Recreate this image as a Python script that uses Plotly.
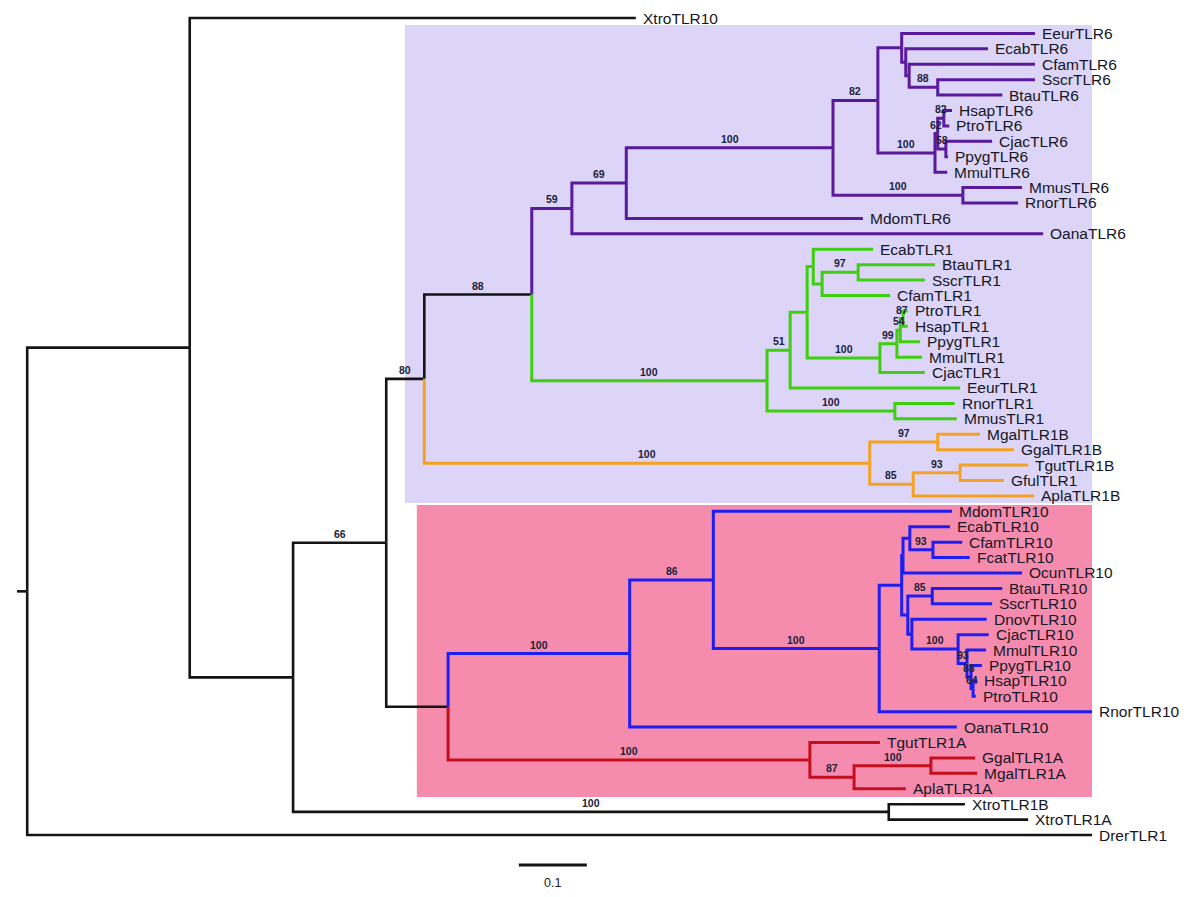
import plotly.graph_objects as go

# ---------------- data: leaves (top to bottom) ----------------
leaf_names = [
    "XtroTLR10", "EeurTLR6", "EcabTLR6", "CfamTLR6", "SscrTLR6", "BtauTLR6",
    "HsapTLR6", "PtroTLR6", "CjacTLR6", "PpygTLR6", "MmulTLR6", "MmusTLR6",
    "RnorTLR6", "MdomTLR6", "OanaTLR6", "EcabTLR1", "BtauTLR1", "SscrTLR1",
    "CfamTLR1", "PtroTLR1", "HsapTLR1", "PpygTLR1", "MmulTLR1", "CjacTLR1",
    "EeurTLR1", "RnorTLR1", "MmusTLR1", "MgalTLR1B", "GgalTLR1B", "TgutTLR1B",
    "GfulTLR1", "AplaTLR1B", "MdomTLR10", "EcabTLR10", "CfamTLR10", "FcatTLR10",
    "OcunTLR10", "BtauTLR10", "SscrTLR10", "DnovTLR10", "CjacTLR10", "MmulTLR10",
    "PpygTLR10", "HsapTLR10", "PtroTLR10", "RnorTLR10", "OanaTLR10", "TgutTLR1A",
    "GgalTLR1A", "MgalTLR1A", "AplaTLR1A", "XtroTLR1B", "XtroTLR1A", "DrerTLR1",
]
leaf_parent = [
    "n1", "N1", "N2", "N3", "N4", "N4",
    "Q3", "Q3", "Q2", "Q2", "NP6", "nrod6",
    "nrod6", "n7", "n6", "G4", "G6", "G6",
    "G5", "GQ3", "GQ3", "GQ2", "GQ1", "GP",
    "G2", "Grod", "Grod", "O2", "O2", "O4",
    "O4", "O3", "B2", "E1", "E2", "E2",
    "Ea", "F1", "F1", "F2", "P", "P2",
    "P3", "P4", "P4", "B3", "B1", "R1",
    "R3", "R3", "R2", "nX", "nX", "n0",
]
# distance from root (substitutions/site)
leaf_depth = [
    0.910, 1.497, 1.428, 1.497, 1.497, 1.449,
    1.375, 1.371, 1.434, 1.369, 1.368, 1.478,
    1.472, 1.244, 1.509, 1.259, 1.350, 1.335,
    1.284, 1.310, 1.310, 1.328, 1.331, 1.335,
    1.387, 1.379, 1.382, 1.416, 1.466, 1.487,
    1.451, 1.496, 1.375, 1.372, 1.390, 1.401,
    1.478, 1.449, 1.434, 1.426, 1.429, 1.425,
    1.419, 1.412, 1.410, 1.581, 1.382, 1.269,
    1.409, 1.412, 1.307, 1.394, 1.487, 1.581,
]

# ---------------- data: internal nodes ----------------
node_names = [
    "root", "n0", "n1", "n2", "nX", "n3", "n4", "n5",
    "n6", "n7", "n8", "n9", "N1", "N2", "N3", "N4", "NP6", "Q1", "Q2", "Q3", "nrod6",
    "G1", "G2", "G3", "G4", "G5", "G6", "GP", "GQ1", "GQ2", "GQ3", "Grod",
    "O1", "O2", "O3", "O4",
    "T0", "B1", "B2", "B3", "B4", "Ea", "E1", "E2", "Fa", "F1", "F2", "P", "P2", "P3", "P4",
    "R1", "R2", "R3",
]
node_parent = [
    None, "root", "n0", "n1", "n2", "n2", "n3", "n4",
    "n5", "n6", "n7", "n8", "n9", "N1", "N2", "N3", "n9", "NP6", "Q1", "Q1", "n8",
    "n5", "G1", "G2", "G3", "G4", "G5", "G3", "GP", "GQ1", "GQ2", "G1",
    "n4", "O1", "O1", "O3",
    "n3", "T0", "B1", "B2", "B3", "B4", "Ea", "E1", "B4", "Fa", "Fa", "F2", "P", "P2", "P3",
    "T0", "R1", "R2",
]
node_depth = [
    0.000, 0.015, 0.254, 0.406, 1.282, 0.543, 0.599, 0.757,
    0.816, 0.896, 1.200, 1.266, 1.301, 1.307, 1.312, 1.354, 1.350, 1.354, 1.366, 1.363, 1.391,
    1.103, 1.137, 1.162, 1.171, 1.184, 1.237, 1.269, 1.294, 1.299, 1.303, 1.291,
    1.254, 1.354, 1.318, 1.387,
    0.634, 0.901, 1.024, 1.268, 1.301, 1.303, 1.313, 1.347, 1.310, 1.346, 1.316, 1.384, 1.397, 1.403, 1.406,
    1.166, 1.231, 1.344,
]
node_support = [
    None, None, None, None, 100, 66, 80, 88,
    59, 69, 100, 82, None, None, None, 88, 100, 62, 58, 82, 100,
    100, 51, None, None, None, 97, 100, 99, 54, 87, 100,
    100, 97, 85, 93,
    None, 100, 86, 100, None, None, None, 93, None, 85, None, 100, 93, 88, 64,
    100, 87, 100,
]
node_group = [
    "base", "base", "base", "base", "base", "base", "base", "base",
    "TLR6", "TLR6", "TLR6", "TLR6", "TLR6", "TLR6", "TLR6", "TLR6", "TLR6", "TLR6", "TLR6", "TLR6", "TLR6",
    "TLR1", "TLR1", "TLR1", "TLR1", "TLR1", "TLR1", "TLR1", "TLR1", "TLR1", "TLR1", "TLR1",
    "TLR1B", "TLR1B", "TLR1B", "TLR1B",
    "base", "TLR10", "TLR10", "TLR10", "TLR10", "TLR10", "TLR10", "TLR10", "TLR10", "TLR10", "TLR10",
    "TLR10", "TLR10", "TLR10", "TLR10",
    "TLR1A", "TLR1A", "TLR1A",
]

scale_length = 0.1

# ---------------- styles ----------------
group_colors = {
    "base": "#141414",
    "TLR6": "#5a1a9c",
    "TLR1": "#3ecf10",
    "TLR1B": "#f5a224",
    "TLR10": "#1e1ef2",
    "TLR1A": "#c40f1e",
}
group_widths = {"base": 2.6, "TLR6": 3, "TLR1": 3, "TLR1B": 3, "TLR10": 3, "TLR1A": 3}
FONT = "Liberation Sans, Arial, sans-serif"

# ---------------- build tree ----------------
parent, depth, group = {}, {}, {}
for n, p, d, g in zip(node_names, node_parent, node_depth, node_group):
    parent[n], depth[n], group[n] = p, d, g
for n, p, d in zip(leaf_names, leaf_parent, leaf_depth):
    parent[n], depth[n], group[n] = p, d, group[p]

children = {}
for n, p in parent.items():
    if p is not None:
        children.setdefault(p, []).append(n)

ypos = {n: i for i, n in enumerate(leaf_names)}


def get_y(n):
    if n not in ypos:
        ch = children[n]
        ypos[n] = sum(get_y(c) for c in ch) / len(ch)
    return ypos[n]


for n in node_names:
    get_y(n)

fig = go.Figure()

for g, col in group_colors.items():
    xs, ys = [], []
    for n, p in parent.items():
        if p is None or group[n] != g:
            continue
        xs += [depth[p], depth[p], depth[n], None]
        ys += [ypos[p], ypos[n], ypos[n], None]
    fig.add_trace(go.Scatter(x=xs, y=ys, mode="lines",
                             line=dict(color=col, width=group_widths[g]),
                             hoverinfo="skip", showlegend=False))

annotations = []
for n in leaf_names:
    annotations.append(dict(x=depth[n], y=ypos[n], text=n, showarrow=False,
                            xanchor="left", yanchor="middle", xshift=5,
                            font=dict(family=FONT, size=15.5, color="#161626")))
for n, s in zip(node_names, node_support):
    if s is None:
        continue
    p = parent[n]
    annotations.append(dict(x=(depth[p] + depth[n]) / 2, y=ypos[n], text=f"<b>{s}</b>",
                            showarrow=False, xanchor="center", yanchor="bottom", yshift=1,
                            font=dict(family=FONT, size=10.5, color="#20203a")))

# scale bar
sb_x0 = 0.738
sb_y = 54.95
annotations.append(dict(x=sb_x0 + scale_length / 2, y=sb_y + 1.15, text=str(scale_length),
                        showarrow=False, xanchor="center", yanchor="middle",
                        font=dict(family=FONT, size=12.5, color="#1a1a1a")))

shapes = [
    dict(type="rect", xref="x", yref="y", x0=0.5706, x1=1.5809, y0=0.45, y1=31.46,
         fillcolor="#dcd5f7", line=dict(width=0), layer="below"),
    dict(type="rect", xref="x", yref="y", x0=0.588, x1=1.5809, y0=31.59, y1=50.53,
         fillcolor="#f68cad", line=dict(width=0), layer="below"),
    dict(type="line", xref="x", yref="y", x0=sb_x0, x1=sb_x0 + scale_length, y0=sb_y, y1=sb_y,
         line=dict(color="#141414", width=3)),
]

fig.update_layout(
    width=1200, height=897,
    margin=dict(l=0, r=0, t=0, b=0),
    paper_bgcolor="white", plot_bgcolor="white",
    xaxis=dict(range=[-0.025, 1.7397], visible=False, showgrid=False, zeroline=False),
    yaxis=dict(range=[57.02, -1.1677], visible=False, showgrid=False, zeroline=False),
    annotations=annotations,
    shapes=shapes,
    showlegend=False,
)

fig.write_html("out.html", config={"displayModeBar": False},
               post_script="document.body.style.margin='0';")
